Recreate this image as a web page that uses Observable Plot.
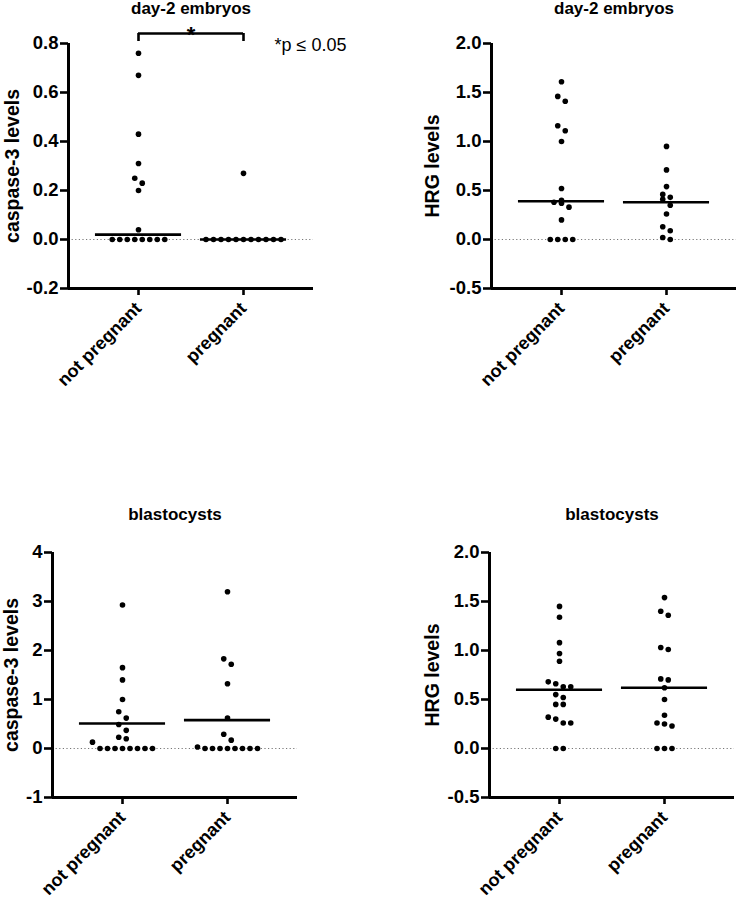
<!DOCTYPE html>
<html>
<head>
<meta charset="utf-8">
<script src="https://cdn.jsdelivr.net/npm/d3@7"></script>
<script src="https://cdn.jsdelivr.net/npm/@observablehq/plot@0.6"></script>
<style>
  body { margin: 0; background: #fff; }
  #wrap { position: relative; width: 738px; height: 901px; background: #fff; }
  .panel { position: absolute; }
</style>
</head>
<body>
<div id="wrap"></div>
<script>
// ---------- data ----------
const groups = ["not pregnant", "pregnant"];

// day-2 embryos, caspase-3 levels
const casp3Day2NotPregnant = [0.76, 0.67, 0.43, 0.31, 0.25, 0.23, 0.20, 0.04, 0, 0, 0, 0, 0, 0, 0, 0];
const casp3Day2Pregnant    = [0.27, 0, 0, 0, 0, 0, 0, 0, 0, 0, 0, 0];
const casp3Day2Lines       = [0.02, 0.0];

// day-2 embryos, HRG levels
const hrgDay2NotPregnant = [1.61, 1.46, 1.41, 1.16, 1.11, 1.00, 0.52, 0.40, 0.38, 0.37, 0.33, 0.20, 0, 0, 0, 0];
const hrgDay2Pregnant    = [0.95, 0.71, 0.54, 0.46, 0.43, 0.41, 0.35, 0.26, 0.13, 0.09, 0.02, 0];
const hrgDay2Lines       = [0.39, 0.38];

// blastocysts, caspase-3 levels
const casp3BlastNotPregnant = [2.93, 1.65, 1.40, 1.00, 0.75, 0.62, 0.49, 0.37, 0.23, 0.20, 0.13, 0, 0, 0, 0, 0, 0, 0, 0];
const casp3BlastPregnant    = [3.20, 1.83, 1.72, 1.32, 0.62, 0.29, 0.17, 0.03, 0, 0, 0, 0, 0, 0, 0, 0];
const casp3BlastLines       = [0.51, 0.58];

// blastocysts, HRG levels
const hrgBlastNotPregnant = [1.45, 1.34, 1.08, 0.97, 0.89, 0.68, 0.66, 0.63, 0.63, 0.55, 0.52, 0.45, 0.45, 0.32, 0.30, 0.26, 0.26, 0, 0];
const hrgBlastPregnant    = [1.54, 1.40, 1.36, 1.03, 1.01, 0.71, 0.70, 0.62, 0.50, 0.34, 0.26, 0.25, 0.23, 0, 0, 0];
const hrgBlastLines       = [0.60, 0.62];

// y-axis ticks
const ticksCasp3Day2  = [-0.2, 0.0, 0.2, 0.4, 0.6, 0.8];
const ticksHrg        = [-0.5, 0.0, 0.5, 1.0, 1.5, 2.0];
const ticksCasp3Blast = [-1, 0, 1, 2, 3, 4];

// significance annotation (panel 1)
const sigBracket = [{from: 0, to: 1, label: "*"}];
const sigNote = ["*p \u2264 0.05"];

// ---------- panels ----------
const FONT = "'Liberation Sans', Arial, Helvetica, sans-serif";
const panels = [
  {title: "day-2 embryos", yLabel: "caspase-3 levels", values: [casp3Day2NotPregnant, casp3Day2Pregnant],
   lines: casp3Day2Lines, ticks: ticksCasp3Day2, fmt: d => d.toFixed(1),
   left: 0, top: 0, mL: 68, mT: 43, labelDx: -56, titleDy: -35, bracket: true},
  {title: "day-2 embryos", yLabel: "HRG levels", values: [hrgDay2NotPregnant, hrgDay2Pregnant],
   lines: hrgDay2Lines, ticks: ticksHrg, fmt: d => d.toFixed(1),
   left: 369, top: 0, mL: 122, mT: 43, labelDx: -59, titleDy: -35},
  {title: "blastocysts", yLabel: "caspase-3 levels", values: [casp3BlastNotPregnant, casp3BlastPregnant],
   lines: casp3BlastLines, ticks: ticksCasp3Blast, fmt: d => String(d),
   left: 0, top: 450, mL: 52, mT: 102, labelDx: -41, titleDy: -38},
  {title: "blastocysts", yLabel: "HRG levels", values: [hrgBlastNotPregnant, hrgBlastPregnant],
   lines: hrgBlastLines, ticks: ticksHrg, fmt: d => d.toFixed(1),
   left: 369, top: 450, mL: 120, mT: 102, labelDx: -57, titleDy: -38}
];

const W = 369, H = 450, FW = 245, FH = 245;
const xDomain = [-2 / 3, 5 / 3];

function layoutDots(valuesByGroup, yDomain) {
  const pyu = FH / (yDomain[1] - yDomain[0]);
  const pxu = FW / (xDomain[1] - xDomain[0]);
  const out = [];
  valuesByGroup.forEach((vals, g) => {
    const asc = vals.slice().sort((a, b) => a - b);
    const rows = [];
    let cur = null;
    for (const v of asc) {
      if (cur && (v - cur.start) * pyu <= 6.8) cur.items.push(v);
      else { cur = {start: v, items: [v]}; rows.push(cur); }
    }
    for (const row of rows) {
      const items = row.items.slice().sort((a, b) => b - a);
      const n = items.length;
      items.forEach((v, k) => out.push({g, v, x: g + (k - (n - 1) / 2) * 7.5 / pxu}));
    }
  });
  return out;
}

const wrap = document.getElementById("wrap");
for (const p of panels) {
  const yDomain = [p.ticks[0], p.ticks[p.ticks.length - 1]];
  const dots = layoutDots(p.values, yDomain);
  const lines = p.lines.map((v, g) => ({g, v}));
  const pyu = FH / (yDomain[1] - yDomain[0]);
  const marks = [
    Plot.ruleY([0], {stroke: "#777", strokeWidth: 1, strokeDasharray: "1.2,2.4"}),
    Plot.ruleY(lines, {y: "v", x1: d => d.g - 0.41, x2: d => d.g + 0.41, stroke: "black", strokeWidth: 2.6}),
    Plot.dot(dots, {x: "x", y: "v", r: 2.8, fill: "black", stroke: "none"}),
    Plot.ruleX([xDomain[0]], {stroke: "black", strokeWidth: 3}),
    Plot.ruleY([yDomain[0]], {stroke: "black", strokeWidth: 3}),
    Plot.axisY({ticks: p.ticks, tickFormat: p.fmt, tickSize: 8, tickPadding: 2, strokeWidth: 2.6,
                label: null, fontSize: 18.5, fontWeight: "bold"}),
    Plot.axisX({ticks: [0, 1], tickFormat: i => groups[i], tickRotate: -45, tickSize: 7, tickPadding: 10,
                strokeWidth: 2.6, label: null, fontSize: 18, fontWeight: "bold"}),
    Plot.text([p.title], {frameAnchor: "top", dy: p.titleDy, lineAnchor: "middle",
                          fontSize: 17, fontWeight: "bold", fill: "black"}),
    Plot.text([p.yLabel], {frameAnchor: "left", dx: p.labelDx, rotate: -90, lineAnchor: "middle",
                           textAnchor: "middle", fontSize: 19.5, fontWeight: "bold", fill: "black"})
  ];
  if (p.bracket) {
    const yTop = yDomain[1] + 10 / pyu, yLow = yDomain[1] + 2 / pyu;
    marks.push(
      Plot.ruleY(sigBracket, {y: () => yTop, x1: "from", x2: "to", stroke: "black", strokeWidth: 2.6}),
      Plot.ruleX(sigBracket.flatMap(b => [b.from, b.to]), {y1: yLow, y2: yTop, stroke: "black", strokeWidth: 2.6}),
      Plot.text(sigBracket, {x: d => (d.from + d.to) / 2, y: () => yTop, dy: 8, lineAnchor: "bottom",
                             text: "label", fontSize: 22, fontWeight: "bold", fill: "black"}),
      Plot.text(sigNote, {frameAnchor: "top-right", dx: 33, dy: 2, textAnchor: "end", lineAnchor: "middle",
                          fontSize: 18, fontWeight: "normal", fill: "black"})
    );
  }
  const chart = Plot.plot({
    width: W, height: H,
    marginLeft: p.mL, marginRight: W - p.mL - FW,
    marginTop: p.mT, marginBottom: H - p.mT - FH,
    x: {type: "linear", domain: xDomain},
    y: {domain: yDomain},
    style: {fontFamily: FONT, fontSize: "17px", color: "black", background: "transparent", overflow: "visible"},
    marks
  });
  chart.classList.add("panel");
  chart.style.left = p.left + "px";
  chart.style.top = p.top + "px";
  chart.style.position = "absolute";
  wrap.appendChild(chart);
}
</script>
</body>
</html>
